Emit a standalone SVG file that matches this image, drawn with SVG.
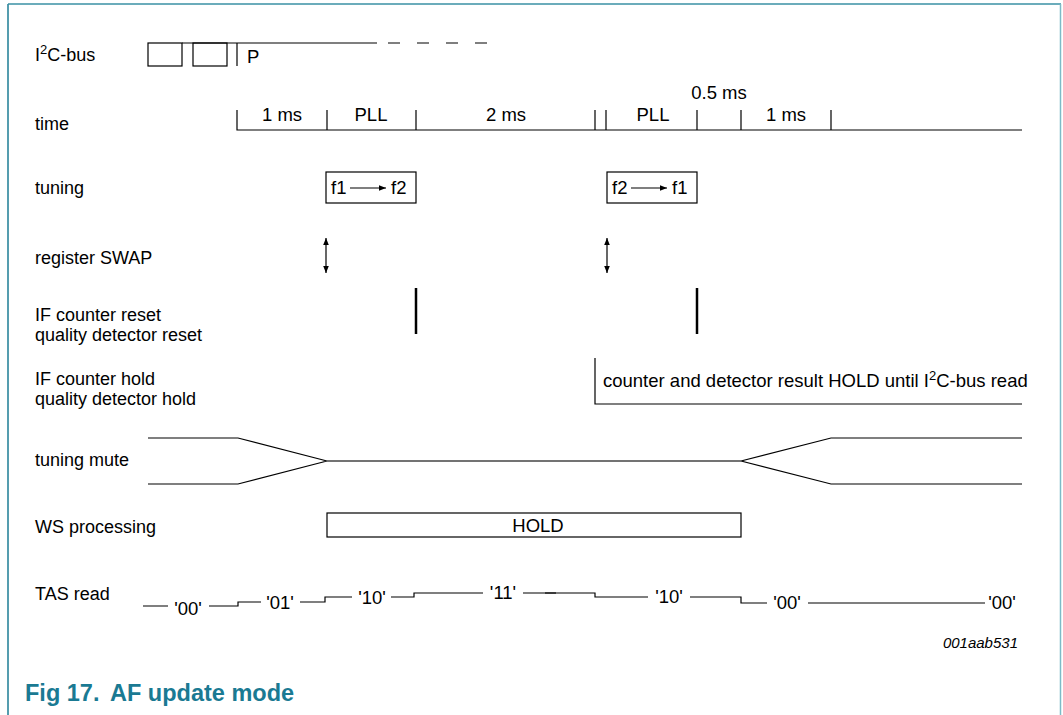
<svg xmlns="http://www.w3.org/2000/svg" width="1063" height="715" viewBox="0 0 1063 715">
<defs>
<style>
text{font-family:"Liberation Sans",Arial,sans-serif;font-size:18.5px;fill:#000}
.lb{font-size:18px}
.l{stroke:#000;stroke-width:1.2;fill:none}
.g{stroke:#444;stroke-width:1.4;fill:none}
.c{text-anchor:middle}
.sup{font-size:13px}
.cap{font-weight:bold;font-size:23.5px;fill:#1a7a93}
</style>
<marker id="ah" viewBox="0 0 10 10" refX="10" refY="5" markerWidth="9" markerHeight="7" markerUnits="userSpaceOnUse" orient="auto-start-reverse"><path d="M0,1 L10,5 L0,9 z" fill="#000"/></marker>
</defs>
<rect width="1063" height="715" fill="#fff"/>
<g id="frame">
<line x1="8" y1="4" x2="8" y2="715" stroke="#1d7d95" stroke-width="1.5"/>
<line x1="8" y1="4" x2="1061" y2="4" stroke="#3a90a4" stroke-width="1.5"/>
<line x1="1060.5" y1="4" x2="1060.5" y2="715" stroke="#7dbac7" stroke-width="1.5"/>
</g>
<g id="labels">
<text x="35" y="61" class="lb">I<tspan class="sup" dy="-7">2</tspan><tspan dy="7">C-bus</tspan></text>
<text x="35" y="130" class="lb">time</text>
<text x="35" y="194" class="lb">tuning</text>
<text x="35" y="264" class="lb">register SWAP</text>
<text x="35" y="321" class="lb">IF counter reset</text>
<text x="35" y="341" class="lb">quality detector reset</text>
<text x="35" y="385" class="lb">IF counter hold</text>
<text x="35" y="405" class="lb">quality detector hold</text>
<text x="35" y="466" class="lb">tuning mute</text>
<text x="35" y="533" class="lb">WS processing</text>
<text x="35" y="600" class="lb">TAS read</text>
</g>
<g id="i2c">
<rect x="148" y="43" width="34" height="23" class="l"/>
<rect x="193" y="43" width="34" height="23" class="l"/>
<line x1="237" y1="43" x2="237" y2="66" class="l"/>
<line x1="182" y1="43" x2="377" y2="43" class="l"/>
<line x1="388" y1="43" x2="504" y2="43" class="l" stroke-dasharray="12 17"/>
<text x="247" y="63">P</text>
</g>
<g id="time">
<path class="l" d="M237,110 V130 H1022 M327,110 V130 M416,110 V130 M595,110 V130 M606,110 V130 M697,110 V130 M741,110 V130 M831,110 V130"/>
<text x="282" y="121" class="c">1 ms</text>
<text x="371" y="121" class="c">PLL</text>
<text x="506" y="121" class="c">2 ms</text>
<text x="653" y="121" class="c">PLL</text>
<text x="719" y="99" class="c">0.5 ms</text>
<text x="786" y="121" class="c">1 ms</text>
</g>
<g id="tuning1">
<rect x="326" y="172" width="90" height="31" class="l"/>
<text x="331" y="194">f1</text>
<line x1="350" y1="188" x2="386" y2="188" class="l" marker-end="url(#ah)"/>
<text x="391" y="194">f2</text>
</g>
<g id="tuning2">
<rect x="607" y="172" width="90" height="31" class="l"/>
<text x="612" y="194">f2</text>
<line x1="631" y1="188" x2="667" y2="188" class="l" marker-end="url(#ah)"/>
<text x="672" y="194">f1</text>
</g>
<g id="connectors">
<line x1="326" y1="238" x2="326" y2="273" class="l" marker-start="url(#ah)" marker-end="url(#ah)"/>
<line x1="607" y1="238" x2="607" y2="273" class="l" marker-start="url(#ah)" marker-end="url(#ah)"/>
<line x1="416" y1="288" x2="416" y2="334" stroke="#000" stroke-width="2.5"/>
<line x1="697" y1="288" x2="697" y2="334" stroke="#000" stroke-width="2.5"/>
</g>
<g id="hold">
<path class="l" d="M595,358 V404 H1022"/>
<text x="603" y="387">counter and detector result HOLD until I<tspan class="sup" dy="-7">2</tspan><tspan dy="7">C-bus read</tspan></text>
</g>
<g id="mute">
<path class="l" d="M148,438 H238 L327,461 M148,484 H238 L327,461 M741,461 L831,438 H1022 M741,461 L831,484 H1022"/>
<line x1="327" y1="461" x2="741" y2="461" class="g"/>
</g>
<g id="ws">
<rect x="327" y="513" width="414" height="24" class="l"/>
<text x="538" y="532" class="c">HOLD</text>
</g>
<g id="tas">
<path class="l" d="M143,606 H168 M209,606 H238 V602 H261 M300,602 H325 V597 H352 M391,597 H414 V593 H483 M523,593 H595 V597 H648 M690,597 H741 V603 H767 M808,603 H985"/>
<line x1="545" y1="593" x2="556" y2="593" stroke="#222" stroke-width="1.5"/>
<text x="188" y="615" class="c">'00'</text>
<text x="280" y="609" class="c">'01'</text>
<text x="372" y="604" class="c">'10'</text>
<text x="503" y="599" class="c">'11'</text>
<text x="669" y="603" class="c">'10'</text>
<text x="787" y="609" class="c">'00'</text>
<text x="1002" y="609" class="c">'00'</text>
<text x="1018" y="648" style="font-style:italic;font-size:15px;text-anchor:end">001aab531</text>
</g>
<g id="caption">
<text x="25" y="701" class="cap">Fig 17.</text>
<text x="110" y="701" class="cap">AF update mode</text>
</g>
</svg>
